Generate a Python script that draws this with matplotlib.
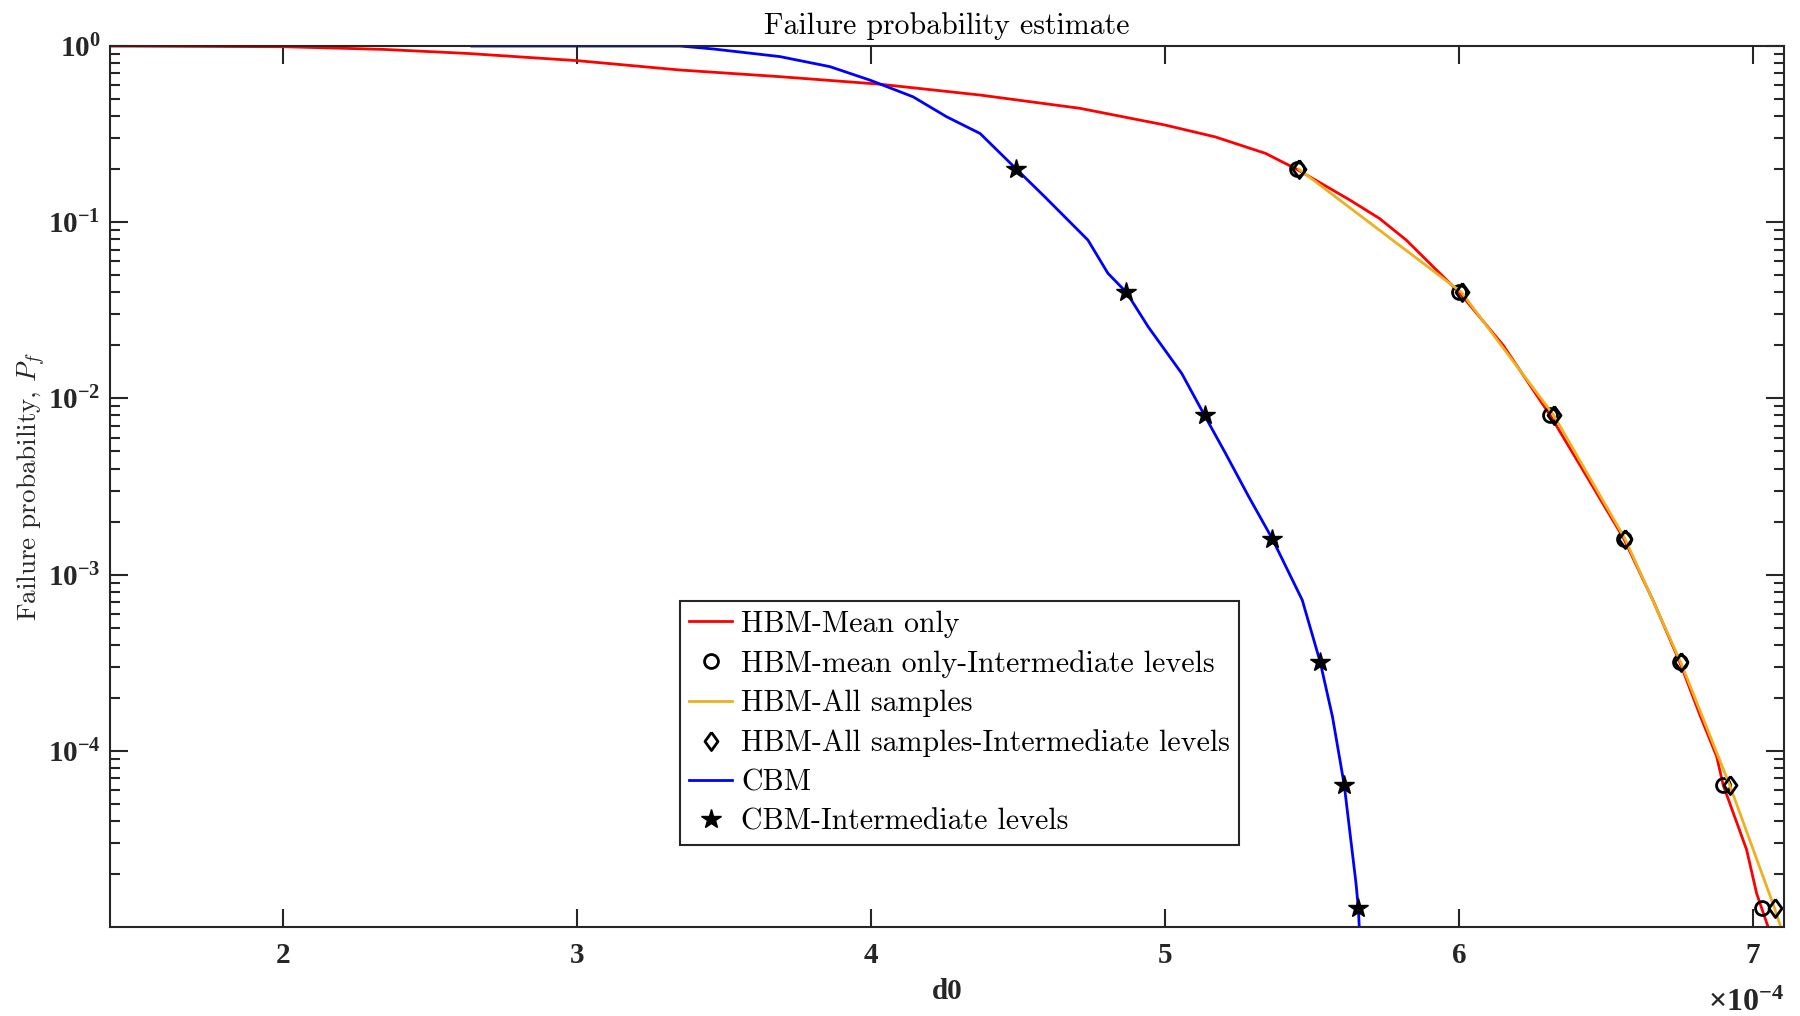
import matplotlib
matplotlib.use("Agg")
import matplotlib.pyplot as plt
from matplotlib.ticker import FixedLocator, LogFormatterSciNotation, NullFormatter

# d0 values are given in units of 1e-4
# HBM, mean only
hbm_mean_d0 = [1.41, 2.0, 2.34, 2.624, 3.0, 3.349, 3.689, 4.03, 4.37, 4.71, 5.0, 5.17,
               5.341, 5.447, 5.627, 5.729, 5.82, 5.911, 6.0, 6.15, 6.31, 6.44, 6.56,
               6.66, 6.75, 6.82, 6.876, 6.898, 6.978, 7.012, 7.029, 7.051]
hbm_mean_pf = [1.0, 0.991, 0.957, 0.908, 0.826, 0.731, 0.670, 0.607, 0.527, 0.443, 0.356, 0.305,
               0.246, 0.2, 0.134, 0.105, 0.0792, 0.056, 0.04, 0.020, 0.008, 0.00347, 0.0016,
               7.1e-4, 3.2e-4, 1.58e-4, 9.3e-5, 6.4e-5, 2.74e-5, 1.55e-5, 1.28e-5, 1.0e-5]

# HBM, all samples
hbm_all_d0 = [5.455, 6.008, 6.322, 6.564, 6.753, 6.920, 7.073, 7.094]
hbm_all_pf = [0.2, 0.04, 0.008, 0.0016, 3.2e-4, 6.4e-5, 1.28e-5, 1.0e-5]

# CBM
cbm_d0 = [2.641, 3.35, 3.463, 3.689, 3.859, 3.995, 4.142, 4.256, 4.37, 4.494, 4.589, 4.737,
          4.805, 4.868, 4.942, 5.056, 5.134, 5.205, 5.284, 5.364, 5.466, 5.527, 5.569,
          5.609, 5.649, 5.657, 5.66]
cbm_pf = [1.0, 1.0, 0.962, 0.871, 0.764, 0.641, 0.515, 0.397, 0.319, 0.2, 0.140, 0.0792,
          0.0513, 0.04, 0.0255, 0.01387, 0.008, 0.00488, 0.00277, 0.0016, 7.18e-4, 3.2e-4, 1.56e-4,
          6.4e-5, 1.77e-5, 1.28e-5, 1.0e-5]

# intermediate subset levels (p0 = 0.2)
levels_pf = [0.2, 0.04, 0.008, 0.0016, 3.2e-4, 6.4e-5, 1.28e-5]
hbm_mean_lvl_d0 = [5.447, 6.000, 6.310, 6.560, 6.750, 6.898, 7.029]
hbm_all_lvl_d0 = [5.455, 6.008, 6.322, 6.564, 6.753, 6.920, 7.073]
cbm_lvl_d0 = [4.494, 4.868, 5.134, 5.364, 5.527, 5.609, 5.657]

x_ticks = [2, 3, 4, 5, 6, 7]
y_ticks = [1e-4, 1e-3, 1e-2, 1e-1, 1e0]

plt.rcParams["mathtext.fontset"] = "cm"
ax_col = "#262626"
tick_font = {"family": "Liberation Serif", "weight": "bold", "size": 21}
cm_font = {"family": "cmr10", "size": 21.5}
diamond = [(0, 1), (0.72, 0), (0, -1), (-0.72, 0), (0, 1)]

fig = plt.figure(figsize=(18, 10.16), dpi=100)
ax = fig.add_axes([0.0611, 0.0876, 0.9300, 0.8671])

ax.semilogy(hbm_mean_d0, hbm_mean_pf, color=(1, 0, 0), lw=2.0, label="HBM-Mean only")
ax.semilogy(hbm_mean_lvl_d0, levels_pf, "o", ls="none", mfc="none", mec="k", ms=10, mew=2.0,
            label="HBM-mean only-Intermediate levels")
ax.semilogy(hbm_all_d0, hbm_all_pf, color="#EDB120", lw=2.0, label="HBM-All samples")
ax.semilogy(hbm_all_lvl_d0, levels_pf, marker=diamond, ls="none", mfc="none", mec="k",
            ms=13, mew=2.0, label="HBM-All samples-Intermediate levels")
ax.semilogy(cbm_d0, cbm_pf, color=(0, 0, 1), lw=2.0, label="CBM")
ax.semilogy(cbm_lvl_d0, levels_pf, "*", ls="none", mfc="k", mec="k", ms=15,
            label="CBM-Intermediate levels")

ax.set_xlim(1.41, 7.105)
ax.set_ylim(1e-5, 1)

ax.xaxis.set_major_locator(FixedLocator(x_ticks))
ax.yaxis.set_major_locator(FixedLocator(y_ticks))
ax.yaxis.set_major_formatter(LogFormatterSciNotation())
ax.yaxis.set_minor_formatter(NullFormatter())
ax.tick_params(which="both", direction="in", top=True, right=True, colors=ax_col, width=1.5)
ax.tick_params(which="major", length=13)
ax.tick_params(which="minor", length=7.5)
ax.tick_params(axis="x", pad=11)
ax.tick_params(axis="y", pad=7)
for lbl in ax.get_xticklabels() + ax.get_yticklabels():
    lbl.set_fontproperties(matplotlib.font_manager.FontProperties(**tick_font))
for sp in ax.spines.values():
    sp.set_color(ax_col)
    sp.set_linewidth(1.5)

ax.set_title("Failure probability estimate", fontdict=cm_font, pad=9)
ax.set_xlabel("d0", fontdict=tick_font, color=ax_col, labelpad=6)
ax.set_ylabel("Failure probability, $P_f$", family="cmr10", size=19.5, color=ax_col,
              math_fontfamily="cm", labelpad=0)
ax.text(1.0, -0.087, "\u00d7$\\mathdefault{10^{-4}}$", transform=ax.transAxes,
        ha="right", va="center", color=ax_col, family="Liberation Serif",
        weight="bold", size=23)

leg = ax.legend(loc="upper left", bbox_to_anchor=(0.3405, 0.3695), prop=cm_font,
                frameon=True, fancybox=False, framealpha=1, edgecolor=ax_col,
                handlelength=1.45, handletextpad=0.3, labelspacing=0.4,
                borderpad=0.3, borderaxespad=0)
leg.get_frame().set_linewidth(1.5)

fig.savefig("out.png", dpi=100)
